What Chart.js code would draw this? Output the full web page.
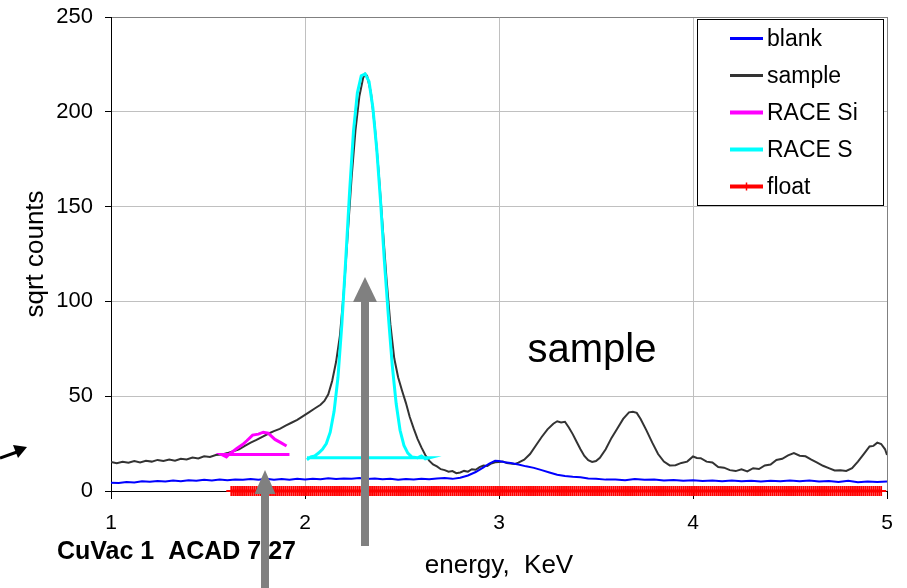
<!DOCTYPE html>
<html>
<head>
<meta charset="utf-8">
<title>sqrt counts vs energy</title>
<script src="https://cdn.jsdelivr.net/npm/chart.js@4.4.1/dist/chart.umd.min.js"></script>
<style>
  html, body { margin: 0; padding: 0; background: #fff; }
  #chart { display: block; }
</style>
</head>
<body>
<canvas id="chart" width="907" height="588"></canvas>
<script>
// axis ticks
const xTicks = [1, 2, 3, 4, 5];
const yTicks = [0, 50, 100, 150, 200, 250];

// blank spectrum
const blankEnergy = [1.00, 1.04, 1.08, 1.12, 1.16, 1.20, 1.24, 1.28, 1.32, 1.36, 1.40, 1.44, 1.48, 1.52, 1.56, 1.60, 1.64, 1.68, 1.72, 1.76, 1.80, 1.84, 1.88, 1.92, 1.96, 2.00, 2.04, 2.08, 2.12, 2.16, 2.20, 2.24, 2.28, 2.32, 2.36, 2.40, 2.44, 2.48, 2.52, 2.56, 2.60, 2.64, 2.68, 2.72, 2.76, 2.80, 2.84, 2.88, 2.92, 2.95, 2.98, 3.00, 3.03, 3.06, 3.10, 3.14, 3.18, 3.22, 3.26, 3.30, 3.34, 3.38, 3.42, 3.46, 3.50, 3.55, 3.60, 3.65, 3.70, 3.75, 3.80, 3.85, 3.90, 3.95, 4.00, 4.05, 4.10, 4.15, 4.20, 4.25, 4.30, 4.35, 4.40, 4.45, 4.50, 4.55, 4.60, 4.65, 4.70, 4.75, 4.80, 4.85, 4.90, 4.95, 5.00];
const blankCounts = [4.4, 4.2, 4.7, 4.5, 5.1, 4.9, 5.3, 5.0, 5.5, 5.2, 5.7, 5.4, 5.9, 5.6, 6.0, 5.7, 6.1, 5.9, 6.3, 6.0, 6.4, 5.9, 6.3, 6.0, 6.4, 6.1, 6.4, 6.2, 6.7, 6.3, 6.6, 6.4, 6.8, 6.3, 6.6, 6.2, 6.4, 6.0, 6.3, 6.1, 6.5, 6.2, 6.6, 6.8, 6.4, 7.0, 8.2, 10.0, 12.5, 14.5, 16.0, 15.8, 15.2, 14.8, 14.0, 13.0, 12.2, 11.0, 9.8, 8.6, 7.9, 7.5, 7.2, 6.6, 6.4, 6.0, 6.1, 5.7, 6.3, 5.9, 6.0, 5.6, 5.8, 5.4, 5.7, 5.3, 5.6, 5.2, 5.5, 5.1, 5.4, 5.0, 5.4, 5.1, 5.5, 5.2, 5.6, 5.0, 5.3, 4.8, 5.4, 4.6, 5.0, 4.8, 5.0];

// sample spectrum
const sampleEnergy = [1.00, 1.03, 1.06, 1.09, 1.12, 1.15, 1.18, 1.21, 1.24, 1.27, 1.30, 1.33, 1.36, 1.39, 1.42, 1.45, 1.48, 1.51, 1.54, 1.57, 1.60, 1.63, 1.66, 1.69, 1.72, 1.75, 1.78, 1.81, 1.84, 1.87, 1.90, 1.93, 1.96, 1.99, 2.02, 2.05, 2.08, 2.10, 2.12, 2.14, 2.16, 2.18, 2.20, 2.22, 2.24, 2.26, 2.28, 2.30, 2.31, 2.32, 2.34, 2.36, 2.38, 2.40, 2.42, 2.44, 2.46, 2.48, 2.50, 2.52, 2.54, 2.56, 2.58, 2.60, 2.62, 2.64, 2.66, 2.68, 2.70, 2.72, 2.74, 2.76, 2.78, 2.80, 2.82, 2.84, 2.86, 2.88, 2.90, 2.92, 2.94, 2.96, 2.98, 3.00, 3.02, 3.04, 3.06, 3.08, 3.10, 3.13, 3.16, 3.19, 3.22, 3.25, 3.28, 3.30, 3.32, 3.34, 3.36, 3.38, 3.40, 3.42, 3.44, 3.46, 3.48, 3.50, 3.52, 3.55, 3.58, 3.61, 3.64, 3.67, 3.69, 3.71, 3.73, 3.76, 3.79, 3.82, 3.85, 3.88, 3.91, 3.94, 3.97, 4.00, 4.02, 4.04, 4.07, 4.10, 4.13, 4.16, 4.19, 4.22, 4.25, 4.28, 4.31, 4.34, 4.37, 4.40, 4.43, 4.46, 4.49, 4.52, 4.55, 4.58, 4.61, 4.64, 4.67, 4.70, 4.73, 4.76, 4.79, 4.82, 4.85, 4.88, 4.91, 4.93, 4.95, 4.97, 4.99, 5.00];
const sampleCounts = [15.3, 14.6, 15.4, 14.9, 15.8, 15.1, 15.9, 15.5, 16.4, 15.8, 16.6, 16.0, 17.0, 16.6, 17.6, 17.2, 18.3, 17.9, 19.0, 19.2, 20.0, 21.0, 22.0, 23.8, 25.5, 27.0, 28.6, 30.2, 31.6, 32.8, 34.5, 36.0, 37.5, 39.5, 41.5, 43.5, 45.5, 47.5, 51, 58, 68, 82, 105, 135, 165, 190, 208, 218, 220, 219, 210, 192, 168, 140, 112, 88, 70, 60, 53, 46.5, 39, 33, 27.5, 23, 19, 16, 14, 13, 11.5, 11, 10.2, 10.5, 9.4, 9.8, 10.6, 10.2, 11.5, 11.2, 12.6, 13.4, 13.2, 14.5, 15.2, 15.3, 15.6, 14.8, 14.5, 14.2, 15.0, 16.5, 19.5, 24, 28.5, 32.5, 35.5, 36.8, 36.2, 36.5, 33.5, 30, 26, 22, 18.5, 16.2, 15.3, 15.8, 17.5, 22, 28, 33, 38, 41.5, 41.8, 41.2, 38, 32, 25.5, 19.5, 15.5, 13.5, 13.6, 14.8, 15.5, 18.2, 17.4, 17.3, 15.5, 15.0, 12.6, 12.3, 11.0, 10.5, 11.4, 10.3, 12.0, 11.6, 13.5, 14.0, 16.4, 17.0, 18.8, 20.0, 18.6, 18.3, 16.6, 15.0, 13.3, 12.1, 10.8, 11.0, 10.6, 12.0, 15.5, 19.5, 23.5, 23.8, 25.5, 24.8, 22, 19];

// RACE Si fit: peak traced right-to-left, then its baseline
const raceSiEnergy = [1.905, 1.875, 1.845, 1.81, 1.785, 1.76, 1.73, 1.70, 1.68, 1.65, 1.63, 1.61, 1.595, 1.57, 1.92];
const raceSiCounts = [23.7, 25.5, 27.2, 30.5, 31, 30, 29.5, 26.5, 24.6, 22.5, 21, 19.5, 18, 19.3, 19.3];

// RACE S fit: peak left-to-right, then baseline back
const raceSEnergy = [2.01, 2.03, 2.05, 2.07, 2.09, 2.11, 2.13, 2.15, 2.17, 2.19, 2.21, 2.23, 2.25, 2.27, 2.29, 2.31, 2.33, 2.35, 2.37, 2.39, 2.41, 2.43, 2.45, 2.47, 2.49, 2.51, 2.53, 2.55, 2.58, 2.60, 2.62, 2.64, 2.01];
const raceSCounts = [16.5, 18, 18.5, 20, 22, 25, 31, 42, 60, 88, 122, 158, 190, 210, 219, 220, 216, 202, 180, 152, 120, 92, 66, 46, 32, 24, 20, 18, 17.5, 18.5, 17, 17.5, 17.5];

// float: every channel (0.01 keV) from 1.62 to 4.97 reads 0
const floatFirstChannel = 162;
const floatLastChannel = 497;
const floatEnergy = [];
const floatCounts = [];
for (let ch = floatFirstChannel; ch <= floatLastChannel; ch++) {
    floatEnergy.push(ch / 100);
    floatCounts.push(0);
}

const FONT = 'Arial, "Liberation Sans", sans-serif';

function pairs(xs, ys) {
    return xs.map((x, i) => ({ x: x, y: ys[i] }));
}

function drawArrow(ctx, x, yTip, yEnd, shaftW, headW, headH, color) {
    ctx.save();
    ctx.fillStyle = color;
    ctx.fillRect(x - shaftW / 2, yTip + headH - 1, shaftW, yEnd - yTip - headH + 1);
    ctx.beginPath();
    ctx.moveTo(x, yTip);
    ctx.lineTo(x + headW / 2, yTip + headH);
    ctx.lineTo(x - headW / 2, yTip + headH);
    ctx.closePath();
    ctx.fill();
    ctx.restore();
}

const decorations = {
    id: 'decorations',
    afterDraw(chart) {
        const ctx = chart.ctx;
        const area = chart.chartArea;
        ctx.save();

        // axis titles
        ctx.fillStyle = '#000';
        ctx.font = '26px ' + FONT;
        ctx.textAlign = 'center';
        ctx.textBaseline = 'middle';
        ctx.fillText('energy,  KeV', (area.left + area.right) / 2, 566);
        ctx.save();
        ctx.translate(36, (area.top + area.bottom) / 2);
        ctx.rotate(-Math.PI / 2);
        ctx.fillText('sqrt counts', 0, 0);
        ctx.restore();

        // big label
        ctx.font = '40px ' + FONT;
        ctx.fillText('sample', 592, 351);

        // footnote
        ctx.font = 'bold 25px ' + FONT;
        ctx.textAlign = 'left';
        ctx.fillText('CuVac 1  ACAD 7/27', 57, 552);

        // legend box
        const lx = 697, ly = 19, lw = 186, lh = 186;
        ctx.fillStyle = '#fff';
        ctx.fillRect(lx, ly, lw, lh);
        ctx.strokeStyle = '#000';
        ctx.lineWidth = 1;
        ctx.strokeRect(lx + 0.5, ly + 0.5, lw, lh);
        ctx.font = '23px ' + FONT;
        ctx.textBaseline = 'middle';
        chart.data.datasets.forEach((ds, i) => {
            const y = 38.5 + i * 37;
            ctx.strokeStyle = ds.borderColor;
            ctx.lineWidth = ds.borderWidth + 1;
            ctx.beginPath();
            ctx.moveTo(730, y);
            ctx.lineTo(763, y);
            ctx.stroke();
            if (ds.pointRadius > 0) {
                ctx.lineWidth = 1.5;
                ctx.beginPath();
                ctx.moveTo(746.5, y - 4);
                ctx.lineTo(746.5, y + 4);
                ctx.stroke();
            }
            ctx.fillStyle = '#000';
            ctx.fillText(ds.label, 767, y + 1);
        });

        // arrows
        drawArrow(ctx, 365, 277, 546, 8, 24, 25, '#808080');
        drawArrow(ctx, 265, 470, 600, 8, 21, 24, '#808080');

        // small black arrow at the left edge
        ctx.strokeStyle = '#000';
        ctx.fillStyle = '#000';
        ctx.lineWidth = 3;
        ctx.beginPath();
        ctx.moveTo(0, 458);
        ctx.lineTo(17, 452);
        ctx.stroke();
        ctx.beginPath();
        ctx.moveTo(27, 447);
        ctx.lineTo(13, 445);
        ctx.lineTo(18, 458);
        ctx.closePath();
        ctx.fill();

        ctx.restore();
    }
};

const edgeGrid = (value, edge) => value === edge ? '#808080' : '#c0c0c0';

new Chart(document.getElementById('chart'), {
    type: 'line',
    data: {
        datasets: [
            { label: 'blank', data: pairs(blankEnergy, blankCounts), borderColor: '#0000ff', borderWidth: 2, pointRadius: 0, order: 4 },
            { label: 'sample', data: pairs(sampleEnergy, sampleCounts), borderColor: '#333333', borderWidth: 2, pointRadius: 0, order: 5 },
            { label: 'RACE Si', data: pairs(raceSiEnergy, raceSiCounts), borderColor: '#ff00ff', borderWidth: 3, pointRadius: 0, order: 2 },
            { label: 'RACE S', data: pairs(raceSEnergy, raceSCounts), borderColor: '#00ffff', borderWidth: 3, pointRadius: 0, order: 1 },
            { label: 'float', data: pairs(floatEnergy, floatCounts), borderColor: '#ff0000', borderWidth: 3,
              pointRadius: 5, pointStyle: 'cross', pointBorderWidth: 1.8,
              pointBorderColor: '#ff0000', clip: false, order: 3 }
        ]
    },
    options: {
        responsive: false,
        animation: false,
        layout: { padding: { top: 17, right: 20, left: 0, bottom: 0 } },
        plugins: { legend: { display: false }, tooltip: { enabled: false } },
        elements: { line: { tension: 0 } },
        scales: {
            x: {
                type: 'linear',
                min: xTicks[0],
                max: xTicks[xTicks.length - 1],
                afterFit: scale => { scale.height = 97; scale.paddingLeft = 0; scale.paddingRight = 0; },
                afterBuildTicks: scale => { scale.ticks = xTicks.map(v => ({ value: v })); },
                ticks: { color: '#000', font: { family: FONT, size: 21 }, padding: 12, maxRotation: 0 },
                grid: { color: c => edgeGrid(c.tick && c.tick.value, 5), tickColor: '#000', tickLength: 8, lineWidth: 1 },
                border: { color: '#000', width: 1 }
            },
            y: {
                min: yTicks[0],
                max: yTicks[yTicks.length - 1],
                afterFit: scale => { scale.width = 111; scale.paddingTop = 0; scale.paddingBottom = 0; },
                afterBuildTicks: scale => { scale.ticks = yTicks.map(v => ({ value: v })); },
                ticks: { color: '#000', font: { family: FONT, size: 22 }, padding: 12 },
                grid: { color: c => edgeGrid(c.tick && c.tick.value, 250), tickColor: '#000', tickLength: 6, lineWidth: 1 },
                border: { color: '#000', width: 1 }
            }
        }
    },
    plugins: [decorations]
});
</script>
</body>
</html>
